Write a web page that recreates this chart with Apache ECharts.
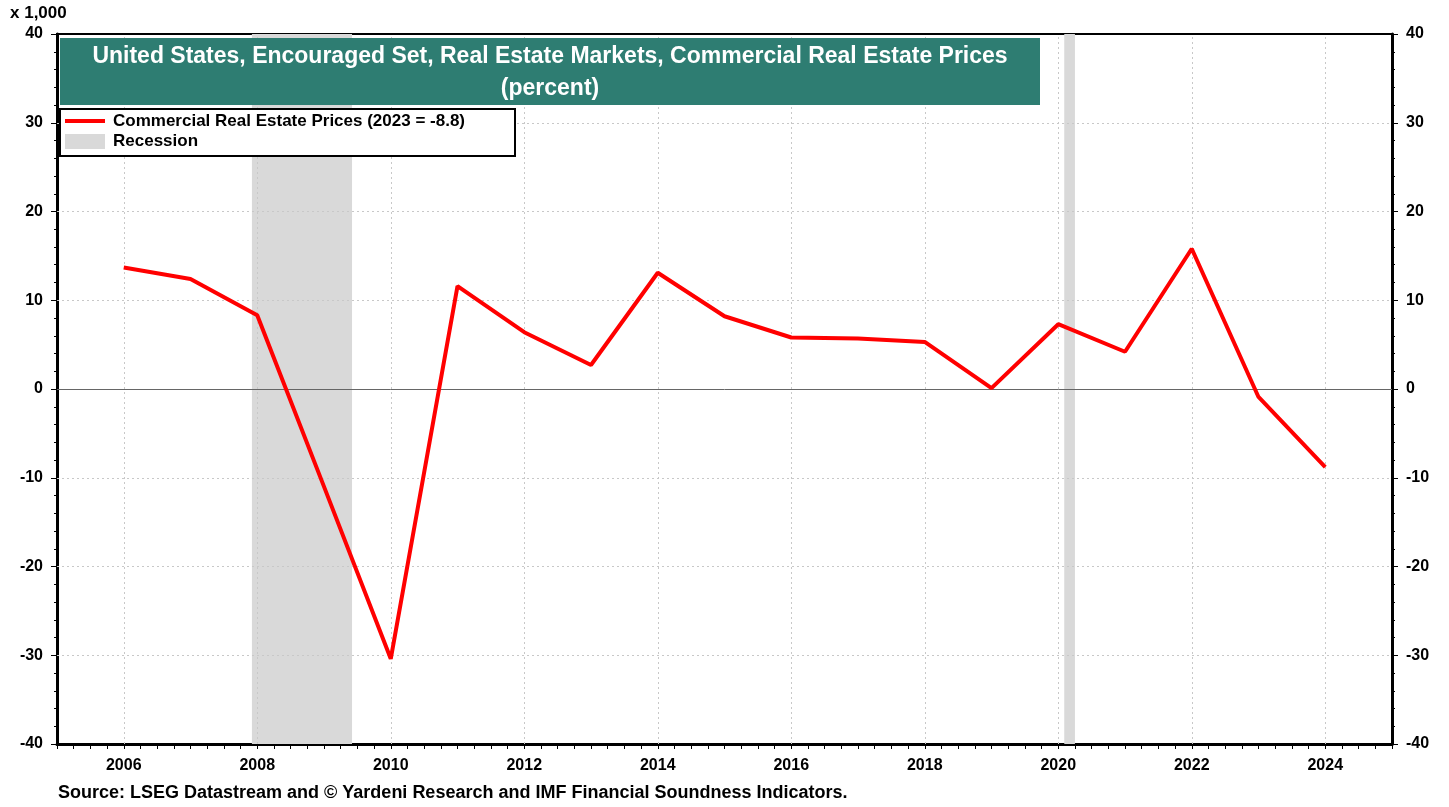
<!DOCTYPE html>
<html>
<head>
<meta charset="utf-8">
<script src="https://cdn.jsdelivr.net/npm/echarts@6/dist/echarts.min.js"></script>
<style>
  html, body { margin: 0; padding: 0; background: #fff; }
  #chart { width: 1449px; height: 807px; }
</style>
</head>
<body>
<div id="chart"></div>
<script>
// yearly observations
const years = [2006, 2007, 2008, 2009, 2010, 2011, 2012, 2013, 2014, 2015,
  2016, 2017, 2018, 2019, 2020, 2021, 2022, 2023, 2024]
const prices = [13.7, 12.4, 8.3, -11.0, -30.4, 11.6, 6.4, 2.7, 13.1, 8.2,
  5.8, 5.7, 5.3, 0.1, 7.3, 4.2, 15.8, -0.9, -8.8]

// recession spans (decimal years)
const recessions = [[2007.92, 2009.42], [2020.09, 2020.25]]

const gridYears = [2006, 2008, 2010, 2012, 2014, 2016, 2018, 2020, 2022, 2024]
const yTicks = [-40, -30, -20, -10, 0, 10, 20, 30, 40]

const font = 'Liberation Sans, Arial, sans-serif'
const chart = echarts.init(document.getElementById('chart'))

const dotted = { color: '#c8c8c8', width: 1, type: [2, 3] }

const yAxisBase = {
  type: 'value',
  min: yTicks[0],
  max: yTicks[yTicks.length - 1],
  interval: 10,
  splitLine: { show: false },
  axisLine: { show: true, lineStyle: { color: '#000', width: 3 } },
  axisTick: { show: true, length: 6, lineStyle: { color: '#000', width: 1 } },
  minorTick: { show: true, splitNumber: 5, length: 3, lineStyle: { color: '#000' } },
  axisLabel: { color: '#000', fontFamily: font, fontWeight: 'bold', fontSize: 16, margin: 14 }
}

chart.setOption({
  animation: false,
  grid: {
    left: 57, right: 57, top: 34, bottom: 63,
    show: true, borderColor: '#000', borderWidth: 2
  },
  xAxis: {
    type: 'value',
    min: 2005,
    max: 2025,
    interval: 1,
    axisLine: { show: true, onZero: false, lineStyle: { color: '#000', width: 3 } },
    axisTick: { show: true, length: 5, lineStyle: { color: '#000' } },
    minorTick: { show: true, splitNumber: 4, length: 5, lineStyle: { color: '#000' } },
    splitLine: { show: false },
    axisLabel: {
      color: '#000', fontFamily: font, fontWeight: 'bold', fontSize: 16, margin: 14,
      formatter: v => (v % 2 === 0 ? String(v) : '')
    }
  },
  yAxis: [
    Object.assign({}, yAxisBase, { position: 'left' }),
    Object.assign({}, yAxisBase, { position: 'right' })
  ],
  series: [
    {
      name: 'Commercial Real Estate Prices',
      type: 'line',
      data: years.map((y, i) => [y, prices[i]]),
      showSymbol: false,
      lineStyle: { color: '#ff0000', width: 4 },
      z: 5,
      markArea: {
        silent: true,
        itemStyle: { color: '#d9d9d9' },
        data: recessions.map(r => [{ xAxis: r[0] }, { xAxis: r[1] }])
      },
      markLine: {
        silent: true,
        symbol: 'none',
        label: { show: false },
        data: yTicks.filter(v => v !== 0 && Math.abs(v) !== 40)
          .map(v => ({ yAxis: v, lineStyle: dotted }))
          .concat(gridYears.map(y => ({ xAxis: y, lineStyle: dotted })))
          .concat([{ yAxis: 0, lineStyle: { color: '#666', width: 1, type: 'solid' } }])
      }
    }
  ],
  graphic: [
    {
      type: 'text', left: 10, top: 5,
      style: { text: 'x 1,000', fill: '#000', font: 'bold 17px ' + font }
    },
    {
      type: 'rect', shape: { x: 60, y: 38, width: 980, height: 67 },
      style: { fill: '#2e7d72' }, z: 10
    },
    {
      type: 'text', x: 550, y: 57, z: 11,
      style: {
        text: 'United States, Encouraged Set, Real Estate Markets, Commercial Real Estate Prices',
        fill: '#fff', font: 'bold 23px ' + font, align: 'center', verticalAlign: 'middle'
      }
    },
    {
      type: 'text', x: 550, y: 89, z: 11,
      style: {
        text: '(percent)', fill: '#fff', font: 'bold 23px ' + font,
        align: 'center', verticalAlign: 'middle'
      }
    },
    {
      type: 'rect', shape: { x: 60, y: 109, width: 455, height: 47 },
      style: { fill: '#fff', stroke: '#000', lineWidth: 2 }, z: 10
    },
    {
      type: 'line', shape: { x1: 65, y1: 121, x2: 105, y2: 121 },
      style: { stroke: '#ff0000', lineWidth: 4 }, z: 11
    },
    {
      type: 'text', x: 113, y: 121, z: 11,
      style: {
        text: 'Commercial Real Estate Prices (2023 = -8.8)', fill: '#000',
        font: 'bold 17px ' + font, verticalAlign: 'middle'
      }
    },
    {
      type: 'rect', shape: { x: 65, y: 134, width: 40, height: 15 },
      style: { fill: '#d9d9d9' }, z: 11
    },
    {
      type: 'text', x: 113, y: 141, z: 11,
      style: { text: 'Recession', fill: '#000', font: 'bold 17px ' + font, verticalAlign: 'middle' }
    },
    {
      type: 'text', left: 58, top: 784,
      style: {
        text: 'Source: LSEG Datastream and \u00a9 Yardeni Research and IMF Financial Soundness Indicators.',
        fill: '#000', font: 'bold 18px ' + font
      }
    }
  ]
})

window.addEventListener('resize', () => chart.resize())
</script>
</body>
</html>
